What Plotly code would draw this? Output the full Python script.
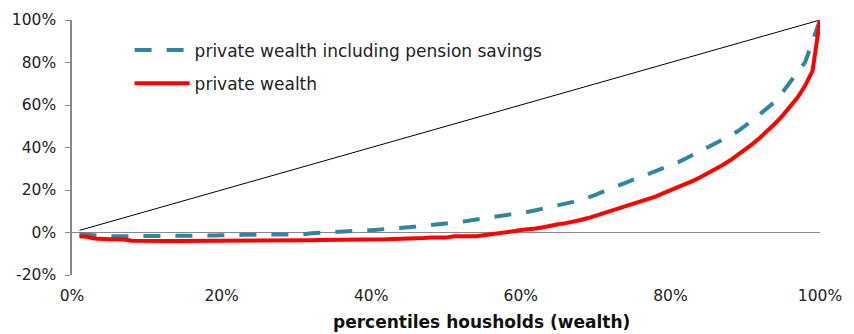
import plotly.graph_objects as go

percentiles = list(range(1, 101))

equality = [1, 2, 3, 4, 5, 6, 7, 8, 9, 10, 11, 12, 13, 14, 15, 16, 17, 18, 19, 20,
            21, 22, 23, 24, 25, 26, 27, 28, 29, 30, 31, 32, 33, 34, 35, 36, 37, 38, 39, 40,
            41, 42, 43, 44, 45, 46, 47, 48, 49, 50, 51, 52, 53, 54, 55, 56, 57, 58, 59, 60,
            61, 62, 63, 64, 65, 66, 67, 68, 69, 70, 71, 72, 73, 74, 75, 76, 77, 78, 79, 80,
            81, 82, 83, 84, 85, 86, 87, 88, 89, 90, 91, 92, 93, 94, 95, 96, 97, 98, 99, 100]

incl_pension = [-0.8, -1.1, -1.5, -1.8, -1.8, -1.8, -1.8, -1.8, -1.8, -1.8,
                -1.8, -1.8, -1.8, -1.8, -1.8, -1.7, -1.6, -1.5, -1.4, -1.3,
                -1.1, -1.1, -1.1, -1.1, -1.1, -1.1, -1.1, -1.1, -1.1, -1.1,
                -0.8, -0.4, 0.0, 0.0, 0.2, 0.5, 0.7, 0.9, 1.0, 1.1,
                1.3, 1.6, 1.9, 2.2, 2.5, 2.8, 3.1, 3.4, 3.7, 4.0,
                4.5, 5.0, 5.5, 6.0, 6.6, 7.1, 7.6, 8.1, 8.6, 9.2,
                9.8, 10.5, 11.2, 12.0, 12.8, 13.6, 14.4, 15.3, 16.3, 17.7,
                19.2, 20.8, 22.1, 23.4, 24.7, 26.0, 27.3, 28.6, 30.0, 31.4,
                33.0, 34.7, 36.5, 38.4, 40.2, 41.8, 43.4, 45.6, 47.6, 50.0,
                52.9, 55.8, 58.8, 61.6, 66.0, 71.0, 75.5, 80.0, 90.0, 100.0]

private_wealth = [-1.8, -2.0, -2.8, -3.2, -3.2, -3.2, -3.3, -3.9, -4.0, -4.0,
                  -4.0, -4.0, -4.0, -4.0, -4.0, -4.0, -4.0, -4.0, -4.0, -4.0,
                  -4.0, -4.0, -4.0, -4.0, -4.0, -4.0, -4.0, -4.0, -4.0, -4.0,
                  -4.0, -3.6, -3.5, -3.5, -3.5, -3.5, -3.5, -3.5, -3.5, -3.5,
                  -3.5, -3.2, -3.0, -3.0, -3.0, -3.0, -2.6, -2.4, -2.4, -2.4,
                  -1.8, -1.8, -1.8, -1.8, -1.3, -0.9, -0.6, -0.1, 0.6, 1.2,
                  1.4, 1.9, 2.5, 3.3, 3.9, 4.4, 5.0, 5.9, 6.8, 7.9,
                  8.9, 10.0, 11.0, 12.2, 13.3, 14.4, 15.6, 16.9, 18.4, 19.8,
                  21.2, 22.7, 24.3, 26.0, 27.8, 29.7, 31.8, 34.0, 36.4, 39.0,
                  41.7, 44.7, 47.9, 51.3, 55.0, 59.0, 63.5, 69.0, 76.0, 100.0]

x_ticks = [0, 20, 40, 60, 80, 100]
x_tick_labels = ["0%", "20%", "40%", "60%", "80%", "100%"]
y_ticks = [-20, 0, 20, 40, 60, 80, 100]
y_tick_labels = ["-20%", "0%", "20%", "40%", "60%", "80%", "100%"]

FONT = "Verdana, DejaVu Sans, sans-serif"

fig = go.Figure()
fig.add_trace(go.Scatter(x=percentiles, y=equality, mode="lines",
                         line=dict(color="#000000", width=1), showlegend=False,
                         hoverinfo="skip"))
fig.add_trace(go.Scatter(x=percentiles, y=incl_pension, mode="lines",
                         name="private wealth including pension savings",
                         legendgroup="a",
                         line=dict(color="#31859C", width=4, dash="17px,15px")))
fig.add_trace(go.Scatter(x=percentiles, y=private_wealth, mode="lines",
                         name="private wealth", legendgroup="b",
                         line=dict(color="#FF0000", width=4)))

fig.update_layout(
    width=846, height=326,
    margin=dict(l=64, r=34, t=12, b=59),
    paper_bgcolor="white", plot_bgcolor="white",
    font=dict(family=FONT, size=15.5, color="#222222"),
    legend=dict(x=0.077, y=0.951, xanchor="left", yanchor="top",
                bgcolor="rgba(0,0,0,0)", itemwidth=55, tracegroupgap=8,
                font=dict(family=FONT, size=17, color="#222222")),
    xaxis=dict(range=[0, 100], tickvals=x_ticks, ticktext=x_tick_labels,
               showgrid=False, zeroline=False, showline=False, ticks="",
               ticklabelstandoff=9, automargin=False),
    yaxis=dict(range=[-20, 100], tickvals=y_ticks, ticktext=y_tick_labels,
               showgrid=False, zeroline=True, zerolinecolor="#888888", zerolinewidth=1,
               showline=True, linecolor="#888888", linewidth=1.5,
               ticks="outside", ticklen=5, tickcolor="#888888",
               ticklabelstandoff=6, automargin=False),
    annotations=[dict(text="<b>percentiles housholds (wealth)</b>", xref="paper", yref="paper",
                      x=0.548, y=-0.184, xanchor="center", yanchor="middle", showarrow=False,
                      font=dict(family=FONT, size=17, color="#111111"))],
)

fig.write_html("out.html")
